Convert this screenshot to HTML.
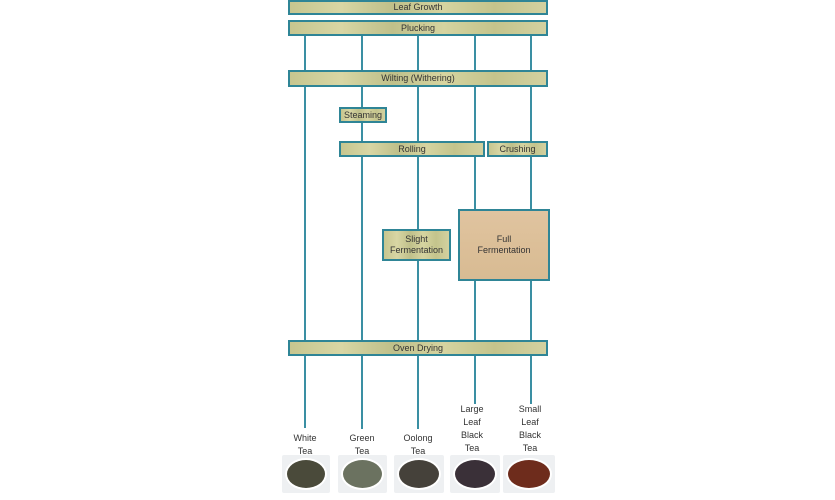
<!DOCTYPE html>
<html><head><style>
body{margin:0;width:835px;height:500px;background:#fff;position:relative;overflow:hidden;font-family:"Liberation Sans",sans-serif}
.b{position:absolute;box-sizing:border-box;border:2px solid #2f8596;background:linear-gradient(90deg,#c7c68f,#d8d6a4 20%,#bfc08a 40%,#d6d4a0 60%,#c4c48c 80%,#d3d1a0);font-size:9px;color:#333;display:flex;align-items:center;justify-content:center;text-align:center;line-height:11px}
.v{position:absolute;width:2px;background:#3a8fa3}
.t{position:absolute;font-size:9px;color:#333;text-align:center;width:50px;line-height:13px}
.i{position:absolute;top:455px;height:38px;background:#eef0f2;border-radius:2px}
.i div{position:absolute;left:3px;right:3px;top:3px;bottom:3px;border-radius:50%;border:2px solid #fff;box-sizing:border-box}
</style></head><body>
<div class="v" style="left:304px;top:34px;height:394px"></div>
<div class="v" style="left:361px;top:34px;height:395px"></div>
<div class="v" style="left:417px;top:34px;height:395px"></div>
<div class="v" style="left:474px;top:34px;height:370px"></div>
<div class="v" style="left:530px;top:34px;height:370px"></div>
<div class="b" style="left:288px;top:0;width:260px;height:15px">Leaf Growth</div>
<div class="b" style="left:288px;top:20px;width:260px;height:16px">Plucking</div>
<div class="b" style="left:288px;top:70px;width:260px;height:17px">Wilting (Withering)</div>
<div class="b" style="left:339px;top:107px;width:48px;height:16px">Steaming</div>
<div class="b" style="left:339px;top:141px;width:146px;height:16px">Rolling</div>
<div class="b" style="left:487px;top:141px;width:61px;height:16px">Crushing</div>
<div class="b" style="left:382px;top:229px;width:69px;height:32px">Slight<br>Fermentation</div>
<div class="b" style="left:458px;top:209px;width:92px;height:72px;background:linear-gradient(#e0c4a0,#dcbf98 50%,#d8bb93)">Full<br>Fermentation</div>
<div class="b" style="left:288px;top:340px;width:260px;height:16px">Oven Drying</div>
<div class="t" style="left:280px;top:432px">White<br>Tea</div>
<div class="t" style="left:337px;top:432px">Green<br>Tea</div>
<div class="t" style="left:393px;top:432px">Oolong<br>Tea</div>
<div class="t" style="left:447px;top:403px">Large<br>Leaf<br>Black<br>Tea</div>
<div class="t" style="left:505px;top:403px">Small<br>Leaf<br>Black<br>Tea</div>
<div class="i" style="left:282px;width:48px"><div style="background:#4a4a3a"></div></div>
<div class="i" style="left:338px;width:49px"><div style="background:#6b7260"></div></div>
<div class="i" style="left:394px;width:50px"><div style="background:#45413a"></div></div>
<div class="i" style="left:450px;width:50px"><div style="background:#3a3038"></div></div>
<div class="i" style="left:503px;width:52px"><div style="background:#6e2c1c"></div></div>
</body></html>
